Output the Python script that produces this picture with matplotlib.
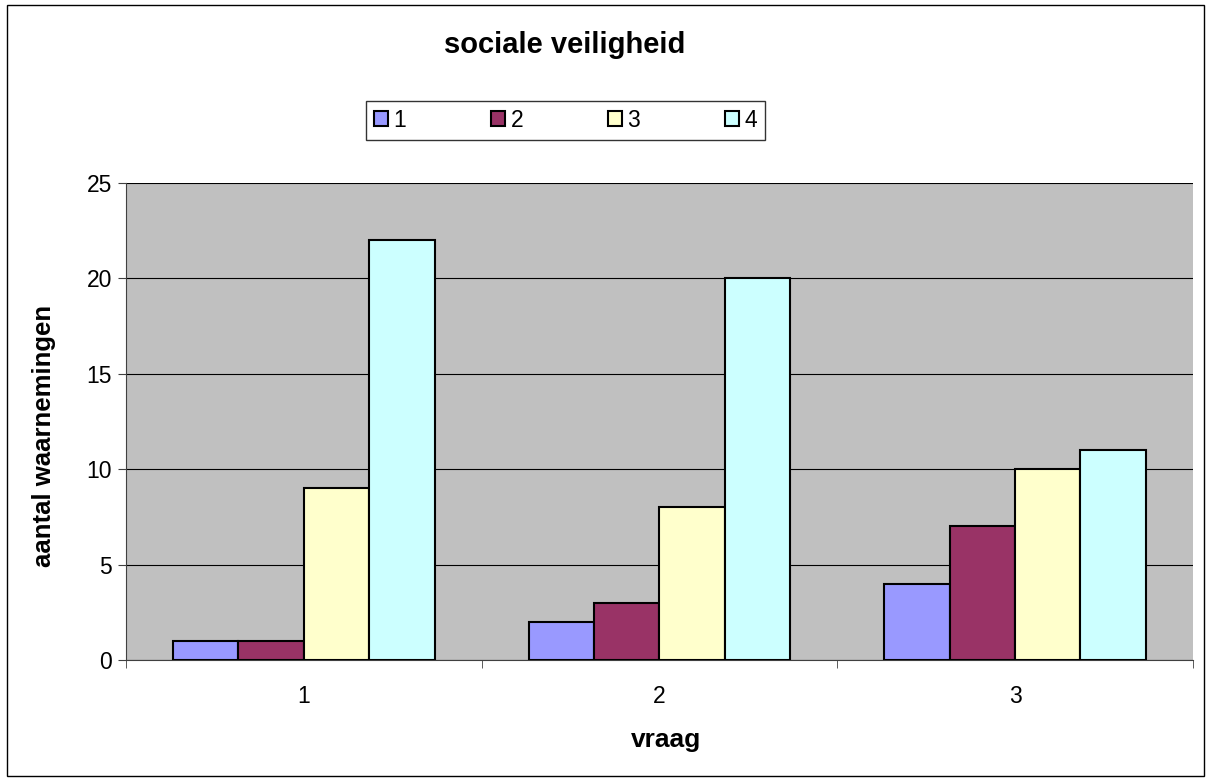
import numpy as np
import matplotlib.pyplot as plt
from matplotlib.patches import Rectangle

plt.rcParams['font.family'] = ['Liberation Sans', 'DejaVu Sans']

# data
categories = ['1', '2', '3']
series_names = ['1', '2', '3', '4']
values = [
    [1, 2, 4],     # serie 1
    [1, 3, 7],     # serie 2
    [9, 8, 10],    # serie 3
    [22, 20, 11],  # serie 4
]
colors = ['#9999FF', '#993366', '#FFFFCC', '#CCFFFF']

fig = plt.figure(figsize=(12.11, 7.81), dpi=100)
ax = fig.add_axes([0.104, 0.155, 0.881, 0.611])
ax.set_facecolor('#C0C0C0')

x = np.arange(len(categories))
w = 0.184
for i, (name, vals) in enumerate(zip(series_names, values)):
    ax.bar(x + (i - 1.5) * w, vals, width=w, color=colors[i],
           edgecolor='black', linewidth=1.5, label=name, zorder=3)

ax.set_xlim(-0.5, len(categories) - 0.5)
ax.set_ylim(0, 25)
ax.set_yticks(np.arange(0, 26, 5))
ax.yaxis.grid(True, color='black', linewidth=0.8, zorder=0)
ax.set_axisbelow(True)

ax.set_xticks(x)
ax.set_xticklabels(categories)
ax.set_xticks(np.arange(-0.5, len(categories), 1), minor=True)
ax.tick_params(axis='x', which='major', length=0, pad=18, labelsize=16.5)
ax.tick_params(axis='x', which='minor', length=6, direction='out', color='#404040')
ax.tick_params(axis='y', length=6, direction='out', color='#404040', labelsize=16.5, pad=4)

for side in ['top', 'right']:
    ax.spines[side].set_visible(False)
ax.spines['left'].set_color('#404040')
ax.spines['bottom'].set_color('#404040')

ax.set_xlabel('vraag', fontsize=19, fontweight='bold')
ax.set_ylabel('aantal waarnemingen', fontsize=18.5, fontweight='bold')
ax.xaxis.set_label_coords(0.506, -0.143)
ax.yaxis.set_label_coords(-0.066, 0.47)

fig.text(0.466, 0.943, 'sociale veiligheid', fontsize=21, fontweight='bold',
         ha='center', va='center')

leg = fig.legend(loc='center', bbox_to_anchor=(0.467, 0.846), ncol=4,
                 frameon=True, fancybox=False, edgecolor='black', fontsize=16.5,
                 handlelength=0.6, handleheight=0.6, columnspacing=3.7,
                 handletextpad=0.25, borderpad=0.35, borderaxespad=0)
leg.get_frame().set_linewidth(1.0)

# outer chart border
fig.patches.append(Rectangle((0.006, 0.007), 0.988, 0.986, transform=fig.transFigure,
                             fill=False, edgecolor='black', linewidth=1.0))

fig.savefig('out.png', dpi=100)
